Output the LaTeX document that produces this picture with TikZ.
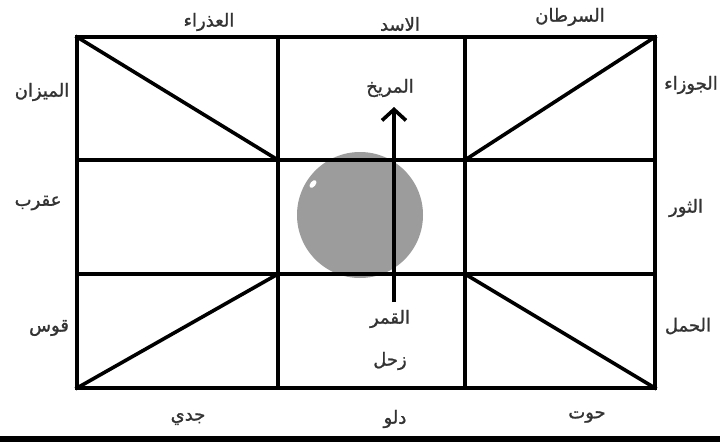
\documentclass[tikz,border=0pt]{standalone}
\usepackage{fontspec}
\newfontfamily\arabicfont[Script=Arabic,FakeBold=1.2]{DejaVu Sans}
\TeXXeTstate=1
\usetikzlibrary{arrows.meta}
\definecolor{txt}{HTML}{333333}
\definecolor{disc}{HTML}{9C9C9C}
\tikzset{
  grid/.style={line width=3.6pt, line cap=rect, line join=miter},
  lbl/.style={inner sep=0pt, text=txt, font=\arabicfont\fontsize{18}{20}\selectfont},
}
\newcommand{\ar}[1]{\beginR #1\endR}
\begin{document}
\begin{tikzpicture}[x=1pt,y=-1pt]
\useasboundingbox (0,0) rectangle (720,442);
\fill[white] (0,0) rectangle (720,442);
\fill[black] (0,436) rectangle (720,442);
% disc
\fill[disc] (360,215) circle (63);
\fill[white] (313,184) ellipse [x radius=4.5, y radius=2.6, rotate=50];
% grid corners
\coordinate (A) at (77,37);
\coordinate (B) at (655,37);
\coordinate (C) at (655,388);
\coordinate (D) at (77,388);
\coordinate (x1t) at (278,37);  \coordinate (x1b) at (278,388);
\coordinate (x2t) at (465,37);  \coordinate (x2b) at (465,388);
\coordinate (y1l) at (77,160);  \coordinate (y1r) at (655,160);
\coordinate (y2l) at (77,274);  \coordinate (y2r) at (655,274);
\coordinate (c1) at (278,160);
\coordinate (c2) at (465,160);
\coordinate (c3) at (278,274);
\coordinate (c4) at (465,274);
\draw[grid] (A) -- (B) -- (C) -- (D) -- cycle;
\draw[grid] (x1t) -- (x1b);
\draw[grid] (x2t) -- (x2b);
\draw[grid] (y1l) -- (y1r);
\draw[grid] (y2l) -- (y2r);
\draw[grid] (A) -- (c1);
\draw[grid] (B) -- (c2);
\draw[grid] (D) -- (c3);
\draw[grid] (C) -- (c4);
% arrow
\coordinate (arS) at (394,302);
\coordinate (arE) at (394,107);
\draw[line width=3.6pt, -{Straight Barb[length=11pt,width=24pt,line width=3.6pt]}] (arS) -- (arE);
% labels
\node[lbl] (virgo) at (209,22) {\ar{العذراء}};
\node[lbl] (leo) at (400,24) {\ar{الاسد}};
\node[lbl] (cancer) at (570,17) {\ar{السرطان}};
\node[lbl] (gemini) at (691,85) {\ar{الجوزاء}};
\node[lbl] (taurus) at (686,208) {\ar{الثور}};
\node[lbl] (aries) at (688,326) {\ar{الحمل}};
\node[lbl] (pisces) at (587,417) {\ar{حوت}};
\node[lbl] (aquarius) at (395,419) {\ar{دلو}};
\node[lbl] (capricorn) at (188,419) {\ar{جدي}};
\node[lbl] (sagittarius) at (49,328) {\ar{قوس}};
\node[lbl] (scorpio) at (38,203) {\ar{عقرب}};
\node[lbl] (libra) at (42,92) {\ar{الميزان}};
\node[lbl] (mars) at (390,88) {\ar{المريخ}};
\node[lbl] (moon) at (390,319) {\ar{القمر}};
\node[lbl] (saturn) at (390,361) {\ar{زحل}};
\end{tikzpicture}
\end{document}
